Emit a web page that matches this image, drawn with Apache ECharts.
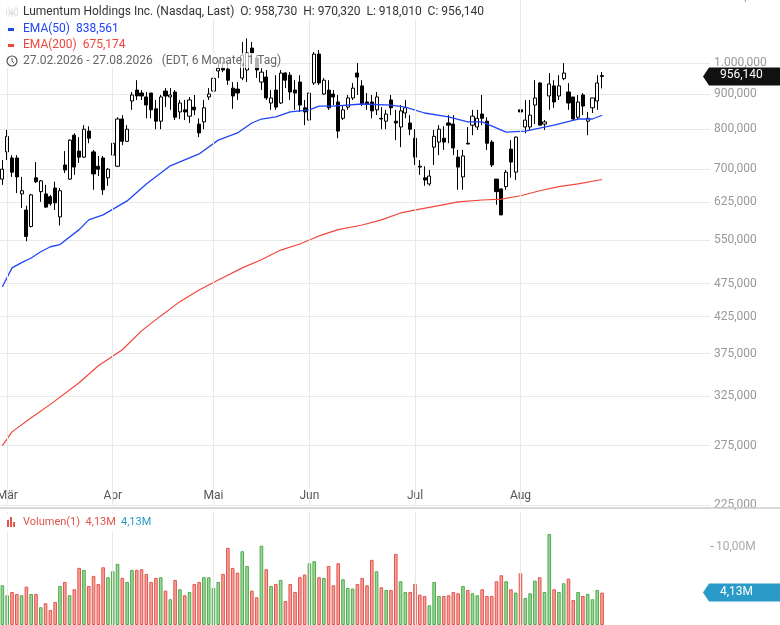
<!DOCTYPE html>
<html><head><meta charset="utf-8">
<script src="https://cdn.jsdelivr.net/npm/echarts@6/dist/echarts.min.js"></script>
<style>html,body{margin:0;padding:0;background:#fff}#c{width:780px;height:625px}</style>
</head><body><div id="c"></div>
<script>
// OHLC as [open, close, low, high]
const ohlc = [
[676,699,663,721],[741,781,721,798],[726,692,681,733],[726,681,645,733],[643,650,613,681],
[609,557,548,618],[576,641,574,643],[679,670,667,716],[648,672,626,674],[643,615,613,663],
[637,622,618,641],[656,624,609,670],[595,650,578,656],[709,697,690,743],[676,771,674,773],
[784,704,686,789],[743,728,714,779],[728,800,726,811],[795,776,763,808],[741,688,652,746],
[706,699,683,731],[726,652,641,731],[679,699,661,702],[733,763,721,784],[706,828,704,833],
[828,768,758,839],[768,800,766,811],[880,898,854,907],[913,895,883,944],[904,895,883,913],
[892,868,830,907],[904,854,830,904],[857,822,800,883],[822,892,800,898],[910,895,862,919],
[892,898,854,919],[907,833,825,913],[848,874,828,883],[854,848,825,883],[836,883,817,892],
[862,854,839,898],[814,790,779,830],[820,860,800,883],[892,901,883,919],[910,950,898,977],
[974,983,951,1010],[983,977,970,1003],[980,944,929,1003],[919,895,857,938],[916,904,883,938],
[951,1027,944,1074],[977,1035,938,1087],[1052,1035,1010,1074],[1017,977,951,1027],[938,970,913,983],
[954,889,883,977],[874,889,854,913],[913,862,854,960],[874,967,871,977],[967,944,919,970],
[960,907,883,970],[913,904,854,944],[938,868,848,960],[860,848,811,883],[825,904,806,929],
[935,1031,929,1038],[1031,935,929,1045],[901,944,898,951],[913,860,854,944],[901,892,868,913],
[877,795,776,898],[830,854,825,868],[862,889,854,898],[889,919,883,935],[967,954,898,1000],
[926,871,865,944],[877,871,854,904],[877,851,830,898],[854,892,839,907],[830,828,800,862],
[822,842,800,854],[883,860,839,898],[822,817,771,854],[806,851,753,868],[845,860,830,883],
[817,800,784,839],[776,728,709,800],[706,704,686,721],[679,674,661,706],[665,683,661,697],
[753,781,709,798],[766,800,733,811],[776,766,746,808],[817,811,763,839],[814,751,733,839],
[728,704,652,746],[681,731,652,746],[763,761,761,806],[811,836,784,854],[806,830,798,854],
[842,830,811,898],[822,763,746,833],[766,709,704,771],[676,648,620,676],[654,599,599,654],
[659,692,652,697],[748,716,679,771],[692,779,674,781],[854,848,811,868],[806,825,789,883],
[806,839,798,883],[868,889,814,944],[935,811,811,938],[814,820,798,825],[895,932,854,967],
[926,877,860,944],[895,926,883,960],[949,967,944,1000],[907,874,854,935],[892,828,825,892],
[833,877,825,898],[898,865,839,904],[822,830,784,848],[860,889,845,889],[880,935,854,960],
[958.73,956.14,918.01,970.32]
];
const volume = [
5.06,3.79,4.21,3.96,3.79,4.89,3.96,3.96,2.26,2.77,
1.91,2.94,4.98,5.49,3.79,4.55,7.28,7.02,4.98,6.26,
5.23,7.36,6.09,6.85,7.79,6.0,5.49,7.02,7.02,7.11,
6.51,5.49,6.0,6.09,4.38,3.28,5.74,4.55,3.79,4.21,
5.23,5.49,6.09,6.09,4.72,5.49,6.51,9.83,7.28,6.68,
9.40,7.53,4.38,3.53,10.1,7.11,4.98,5.23,5.74,3.06,
5.23,4.21,6.09,6.43,7.87,8.13,6.09,6.0,7.53,5.06,
7.87,5.83,4.72,4.64,5.23,6.0,5.06,8.30,6.85,4.81,
4.47,4.47,9.06,5.57,4.21,4.21,5.23,3.87,3.70,2.51,
5.49,3.70,3.70,3.79,4.21,4.04,4.98,4.47,4.04,3.79,
4.55,3.70,3.70,5.57,6.34,5.57,4.55,4.13,6.60,3.45,
4.04,5.66,6.09,4.21,11.6,4.55,4.21,5.32,5.91,3.19,
4.21,3.70,3.96,3.28,4.47,4.13
];
const ema50 = [[0,470],[2,501],[4,510],[6,518],[8,529],[10,538],[12,542],[16,570],[18,589],[21,599],
[26,628],[30,665],[35,707],[41,736],[45,771],[49,790],[52,817],[54,828],[57,834],[60,848],[64,854],
[66,865],[69,865],[75,871],[81,868],[84,862],[88,845],[93,834],[97,820],[100,820],[105,792],
[109,795],[115,811],[120,828],[123,828],[125,838.561]];
const ema200 = [[0,275],[2,288],[6,302],[10,316],[16,340],[20,360],[25,380],[29,405],[33,426],[37,447],
[41,465],[45,481],[50,501],[54,515],[58,532],[62,543],[66,558],[70,570],[75,579],[79,589],[83,603],
[87,611],[91,618],[95,626],[100,630],[104,632],[108,639],[112,650],[116,659],[120,665],[125,675.174]];
const priceTicks = [225,275,325,375,425,475,550,625,700,800,900,1000,1250];
const monthTicks = [[1,'Mär'],[23,'Apr'],[44,'Mai'],[64,'Jun'],[86,'Jul'],[108,'Aug']];
const SLOTS = 148;

const L = Math.log;
const cats = Array.from({length:SLOTS},(_,i)=>String(i));
const monthIdx = new Set(monthTicks.map(m=>m[0]));
const monthName = Object.fromEntries(monthTicks);
function de(v,d){const s=v.toFixed(d).split('.');return s[0].replace(/\B(?=(\d{3})+(?!\d))/g,'.')+','+s[1];}
const ch = echarts.init(document.getElementById('c'));
const gridLineC = '#e9e9e9';
const vLines = {silent:true,symbol:'none',label:{show:false},lineStyle:{color:gridLineC,type:'solid',width:1},
  data:monthTicks.map(m=>({xAxis:m[0]}))};
const xBase = {type:'category',data:cats,boundaryGap:true,axisLine:{show:false},axisTick:{show:false},splitLine:{show:false}};
ch.setOption({
  animation:false,
  textStyle:{fontFamily:'Roboto'},
  grid:[{left:0,right:70,top:-3,bottom:120,outerBoundsMode:'none',containLabel:false},
        {left:0,right:70,top:512,bottom:0,outerBoundsMode:'none',containLabel:false}],
  xAxis:[Object.assign({},xBase,{gridIndex:0,axisLabel:{inside:true,interval:(i)=>monthIdx.has(i),
      formatter:(v)=>monthName[+v]||'',color:'#555',fontSize:12,margin:3,align:'center'}}),
    Object.assign({},xBase,{gridIndex:1,axisLabel:{show:false}})],
  yAxis:[{gridIndex:0,type:'value',position:'right',min:L(225),max:L(1250),
      axisLine:{show:false},
      axisTick:{show:false,customValues:priceTicks.map(L)},
      splitLine:{show:true,lineStyle:{color:gridLineC}},
      axisLabel:{customValues:priceTicks.map(L),formatter:v=>de(Math.exp(v),3),color:'#999',fontSize:12,margin:4}},
    {gridIndex:1,type:'value',position:'right',min:0,max:14.4,
      axisLine:{show:false},axisTick:{show:true,customValues:[10],length:4,lineStyle:{color:'#aaa'}},
      splitLine:{show:false},
      axisLabel:{customValues:[10],formatter:v=>de(v,2)+'M',color:'#aaa',fontSize:12,margin:6}}],
  series:[
    {type:'candlestick',xAxisIndex:0,yAxisIndex:0,barWidth:3.6,
     data:ohlc.map(r=>r.map(L)),markLine:vLines,
     itemStyle:{color:'#fff',color0:'#000',borderColor:'#000',borderColor0:'#000',borderWidth:1}},
    {type:'line',xAxisIndex:0,yAxisIndex:0,data:ema200.map(p=>[p[0],L(p[1])]),symbol:'none',
     lineStyle:{color:'#f0473a',width:1.2}},
    {type:'line',xAxisIndex:0,yAxisIndex:0,data:ema50.map(p=>[p[0],L(p[1])]),symbol:'none',
     lineStyle:{color:'#1f45f5',width:1.3}},
    {type:'bar',xAxisIndex:1,yAxisIndex:1,barWidth:3.6,markLine:vLines,
     data:volume.map((v,i)=>({value:v,itemStyle:ohlc[i][1]>=ohlc[i][0]?
       {color:'#9dd69a',borderColor:'#4caa4a',borderWidth:1}:{color:'#f4a29c',borderColor:'#e4544c',borderWidth:1}}))}
  ]
});
const last = ohlc[ohlc.length-1];
const yP = ch.convertToPixel({gridIndex:0},[0,L(last[1])])[1];
const yV = ch.convertToPixel({gridIndex:1},[0,volume[volume.length-1]])[1];
function tag(y,txt,bg){return [
  {type:'polygon',shape:{points:[[703,y],[709,y-9],[780,y-9],[780,y+9],[709,y+9]]},style:{fill:bg},z:20},
  {type:'text',left:720,top:y-7,style:{text:txt,fill:'#fff',font:'12px Roboto'},z:21}];}
const txt=(x,y,s,c,sz)=>({type:'text',left:x,top:y,style:{text:s,fill:c,font:(sz||12)+'px Roboto'},z:30});
ch.setOption({graphic:[
  {type:'rect',shape:{x:0,y:0,width:430,height:19},style:{fill:'rgba(255,255,255,0.85)'},z:25},
  {type:'rect',shape:{x:0,y:19,width:130,height:34},style:{fill:'rgba(255,255,255,0.85)'},z:25},
  {type:'rect',shape:{x:0,y:53,width:266,height:15},style:{fill:'rgba(255,255,255,0.7)'},z:25},
  {type:'group',z:30,children:[
    {type:'line',shape:{x1:8,y1:7,x2:8,y2:17},style:{stroke:'#333'}},
    {type:'rect',shape:{x:6.5,y:10,width:3,height:5},style:{fill:'#fff',stroke:'#333'}},
    {type:'line',shape:{x1:12,y1:8,x2:12,y2:17},style:{stroke:'#333'}},
    {type:'rect',shape:{x:10.5,y:11,width:3,height:4},style:{fill:'#333'}},
    {type:'line',shape:{x1:16,y1:6,x2:16,y2:17},style:{stroke:'#333'}},
    {type:'rect',shape:{x:14.5,y:9,width:3,height:6},style:{fill:'#fff',stroke:'#333'}}]},
  txt(23,6,'Lumentum Holdings Inc. (Nasdaq, Last)  O: 958,730  H: 970,320  L: 918,010  C: 956,140','#333'),
  {type:'rect',shape:{x:8,y:28,width:6,height:3},style:{fill:'#1f45f5'},z:30},
  txt(23,23,'EMA(50)  838,561','#1f45f5'),
  {type:'rect',shape:{x:8,y:44,width:6,height:3},style:{fill:'#f0473a'},z:30},
  txt(23,39,'EMA(200)  675,174','#f0473a'),
  {type:'circle',shape:{cx:12,cy:61,r:5},style:{fill:'none',stroke:'#555',lineWidth:1.2},z:30},
  {type:'polyline',shape:{points:[[12,58],[12,61],[14,63]]},style:{stroke:'#555',fill:'none'},z:30},
  txt(23,55,'27.02.2026 - 27.08.2026   (EDT, 6 Monate, 1 Tag)','#666'),
  {type:'line',shape:{x1:0,y1:508,x2:780,y2:508},style:{stroke:'#ccc',lineWidth:1.5},z:25},
  {type:'rect',shape:{x:2,y:514,width:156,height:18},style:{fill:'#fff'},z:25},
  {type:'rect',shape:{x:7,y:520,width:2,height:7},style:{fill:'#e4544c'},z:30},
  {type:'rect',shape:{x:10,y:517,width:2,height:10},style:{fill:'#e4544c'},z:30},
  {type:'rect',shape:{x:13,y:522,width:2,height:5},style:{fill:'#e4544c'},z:30},
  txt(23,517,'Volumen(1)  4,13M','#e4544c',11),
  txt(121,517,'4,13M','#2a9bc8',11),
  ...tag(yP,'956,140','#111'),
  ...tag(yV,'4,13M','#2a9bc8')
]});
</script></body></html>
